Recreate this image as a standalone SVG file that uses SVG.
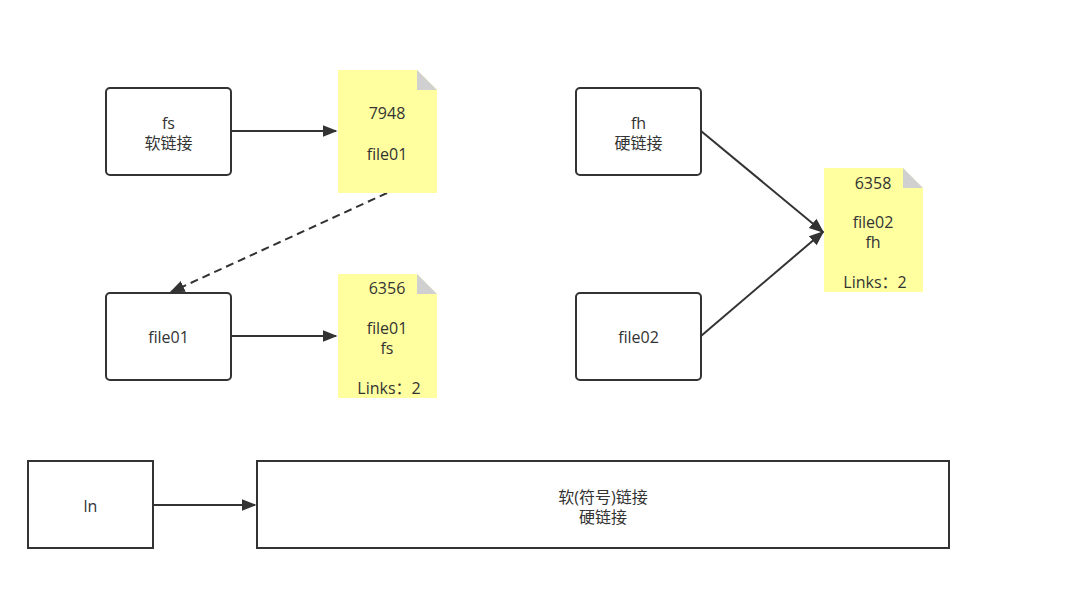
<svg xmlns="http://www.w3.org/2000/svg" width="1089" height="600" viewBox="0 0 1089 600">
<defs>
<style>
.box{fill:#fff;stroke:#333;stroke-width:2}
.note{fill:#ffffa0;stroke:none}
.fold{fill:#d0d0d0}
.t{font-family:"Open Sans","Noto Sans CJK SC",sans-serif;font-size:16px;fill:#333;text-anchor:middle}
.c{stroke:#333;stroke-width:2;fill:none}
</style>
<marker id="ah2" viewBox="0 0 10 10" refX="9" refY="5" markerWidth="15" markerHeight="15" markerUnits="userSpaceOnUse" orient="auto">
<path d="M0,1 L10,5 L0,9 z" fill="#333"/>
</marker>
</defs>
<rect width="1089" height="600" fill="#fff"/>
<g id="connectors">
<line class="c" x1="231" y1="131" x2="336" y2="131" marker-end="url(#ah2)"/>
<line class="c" x1="387" y1="193" x2="171" y2="292" stroke-dasharray="8 5" marker-end="url(#ah2)"/>
<line class="c" x1="231" y1="336" x2="336" y2="336" marker-end="url(#ah2)"/>
<line class="c" x1="701" y1="131" x2="823" y2="232" marker-end="url(#ah2)"/>
<line class="c" x1="701" y1="336" x2="823" y2="232" marker-end="url(#ah2)"/>
<line class="c" x1="153" y1="505" x2="255" y2="505" marker-end="url(#ah2)"/>
</g>
<g id="fs">
<rect class="box" x="106" y="88" width="125" height="87" rx="4"/>
<text class="t" x="168.5" y="129">fs</text>
<text class="t" x="168.5" y="149">软链接</text>
</g>
<g id="note7948">
<path class="note" d="M338,70 H417 L437,90 V193 H338 Z"/>
<path class="fold" d="M417,70 L437,90 H417 Z"/>
<text class="t" x="387" y="119">7948</text>
<text class="t" x="387" y="160">file01</text>
</g>
<g id="file01">
<rect class="box" x="106" y="293" width="125" height="87" rx="4"/>
<text class="t" x="168.5" y="343">file01</text>
</g>
<g id="note6356">
<path class="note" d="M338,274 H417 L437,294 V398 H338 Z"/>
<path class="fold" d="M417,274 L437,294 H417 Z"/>
<text class="t" x="387" y="294">6356</text>
<text class="t" x="387" y="334">file01</text>
<text class="t" x="387" y="354">fs</text>
<text class="t" x="389" y="394">Links：2</text>
</g>
<g id="fh">
<rect class="box" x="576" y="88" width="125" height="87" rx="4"/>
<text class="t" x="638.5" y="129">fh</text>
<text class="t" x="638.5" y="149">硬链接</text>
</g>
<g id="file02">
<rect class="box" x="576" y="293" width="125" height="87" rx="4"/>
<text class="t" x="638.5" y="343">file02</text>
</g>
<g id="note6358">
<path class="note" d="M824,168 H903 L923,188 V292 H824 Z"/>
<path class="fold" d="M903,168 L923,188 H903 Z"/>
<text class="t" x="873" y="189">6358</text>
<text class="t" x="873" y="228">file02</text>
<text class="t" x="873" y="248">fh</text>
<text class="t" x="875" y="288">Links：2</text>
</g>
<g id="ln">
<rect class="box" x="28" y="461" width="125" height="87"/>
<text class="t" x="90.5" y="512">ln</text>
</g>
<g id="desc">
<rect class="box" x="257" y="461" width="692" height="87"/>
<text class="t" x="603" y="503">软(符号)链接</text>
<text class="t" x="603" y="523">硬链接</text>
</g>
</svg>
